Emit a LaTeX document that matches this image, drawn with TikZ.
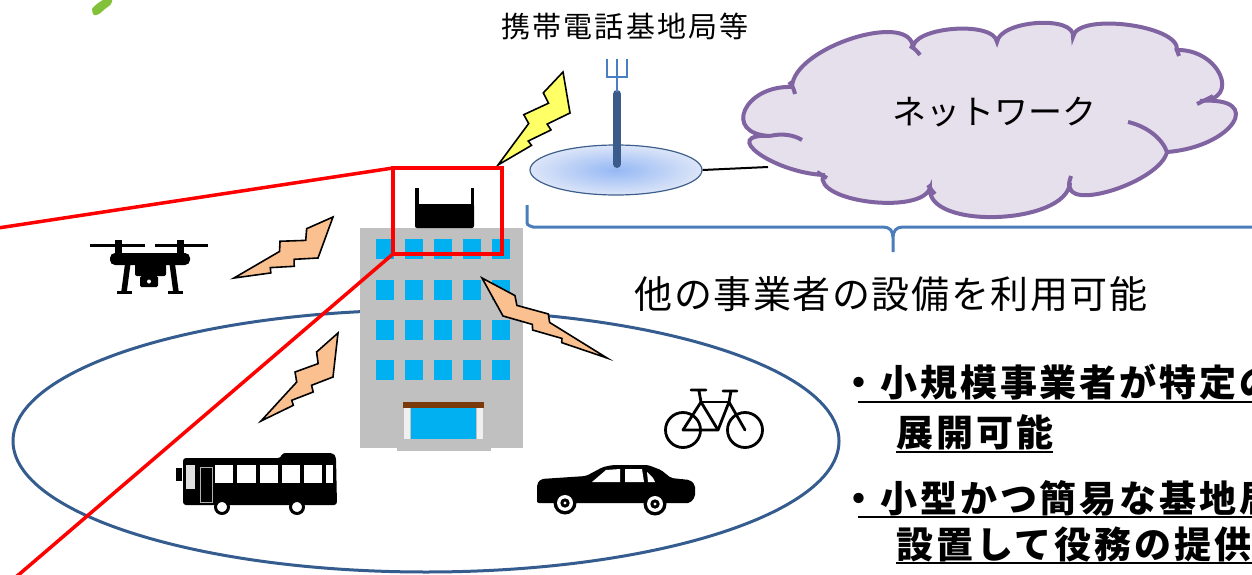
\documentclass[tikz,border=0pt]{standalone}
\usepackage{fontspec}
\setmainfont{Noto Sans CJK JP}
\usetikzlibrary{shapes.geometric}

\definecolor{winblue}{HTML}{00B0F0}
\definecolor{wallgray}{HTML}{C0C0C0}
\definecolor{lintel}{HTML}{7B3A0B}
\definecolor{pillar}{HTML}{F0F0F0}
\definecolor{areablue}{HTML}{355C8E}
\definecolor{bracecol}{HTML}{4A7DBA}
\definecolor{cloudfill}{HTML}{E6E0EC}
\definecolor{cloudline}{HTML}{8064A2}
\definecolor{bsin}{HTML}{95B8F4}
\definecolor{bsout}{HTML}{DCE5F8}
\definecolor{bsline}{HTML}{3E5F8C}
\definecolor{mastcol}{HTML}{3B5C8A}
\definecolor{antcol}{HTML}{4A7EC2}
\definecolor{boltyellow}{HTML}{FFFF66}
\definecolor{boltorange}{HTML}{FAC090}
\definecolor{leaf}{HTML}{84C13A}

% lightning bolt: tip #1, broad-end corners #2 and #3, fill colour #4
\newcommand\bolt[4]{%
  \draw[boltline, fill=#4] (#2)
    -- (barycentric cs:#1=0.2876,#2=0.8558,#3=-0.1434)
    -- (barycentric cs:#1=0.2444,#2=0.5490,#3=0.2066)
    -- (barycentric cs:#1=0.5750,#2=0.6886,#3=-0.2636)
    -- (barycentric cs:#1=0.5330,#2=0.4194,#3=0.0476)
    -- (#1)
    -- (barycentric cs:#1=0.5441,#2=-0.0990,#3=0.5549)
    -- (barycentric cs:#1=0.5762,#2=0.0467,#3=0.3771)
    -- (barycentric cs:#1=0.2707,#2=-0.0703,#3=0.7996)
    -- (barycentric cs:#1=0.3056,#2=0.1169,#3=0.5775)
    -- (#3) -- cycle;}

\begin{document}
\begin{tikzpicture}[x=1pt,y=-1pt,
  boltline/.style={draw=black, line width=1.6pt, line join=miter},
  redline/.style={draw=red, line width=3.5pt},
  cloudedge/.style={draw=cloudline, line width=4pt},
  uline/.style={line width=2.6pt},
  bigtext/.style={font=\fontsize{38}{42}\selectfont\addfontfeature{LetterSpace=4}},
  boldline/.style={anchor=base west, inner sep=0pt,
    font=\fontsize{37}{42}\selectfont\bfseries\addfontfeature{LetterSpace=8}},
  frame/.style={line width=2.8pt, line join=round, line cap=round}]

\useasboundingbox (0,0) rectangle (1252,575);
\clip (0,0) rectangle (1252,575);

% leaf at the top edge
\fill[leaf] plot[smooth cycle] coordinates {(94,15) (92,9) (97,4) (103,0) (112,-3) (111,4) (105,9) (99,14)};

% service area
\draw[areablue, line width=3pt] (426,441) ellipse [x radius=413pt, y radius=131pt];

% building
\fill[wallgray] (360,228) rectangle (523,448);
\fill[wallgray] (397,447) rectangle (491,451);
\foreach \x in {376,405,434,463,492}
  \foreach \y in {239,280,320,360}
    \fill[winblue] (\x,\y) rectangle +(18,20);
\fill[lintel] (403,402) rectangle (484,408);
\fill[pillar] (404,408) rectangle (410,439);
\fill[pillar] (477,408) rectangle (483,439);
\fill[winblue] (411,408) rectangle (476,439);

% router on the roof
\fill (415,188) rectangle (418.5,206);
\fill (470.5,188) rectangle (474,206);
\fill[rounded corners=2pt] (415,204) rectangle (474,228);

% lightning bolts
\coordinate (y1t) at (498,165); \coordinate (y1a) at (563,72);  \coordinate (y1b) at (570,113);
\coordinate (o1t) at (234,278); \coordinate (o1a) at (333,217); \coordinate (o1b) at (318,258);
\coordinate (o2t) at (261,421); \coordinate (o2a) at (338,333); \coordinate (o2b) at (333,377);
\coordinate (o3t) at (607,358); \coordinate (o3a) at (482,278); \coordinate (o3b) at (503,316);
\bolt{y1t}{y1a}{y1b}{boltyellow}
\bolt{o1t}{o1a}{o1b}{boltorange}
\bolt{o2t}{o2a}{o2b}{boltorange}
\bolt{o3t}{o3a}{o3b}{boltorange}

% zoom frame
\node[draw=red, line width=4pt, minimum width=109pt, minimum height=86pt,
      inner sep=0pt, outer sep=0pt] (rbox) at (447.5,211) {};
\coordinate (zoomtop) at (-2,228);
\coordinate (zoombot) at (-5,595);
\draw[redline] (rbox.north west) -- (zoomtop);
\draw[redline] (rbox.south west) -- (zoombot);

% base station
\node[ellipse, minimum width=172pt, minimum height=50pt, inner sep=0pt,
      draw=bsline, line width=1.2pt, inner color=bsin, outer color=bsout] (bs) at (616,170) {};
\draw[mastcol, line width=8pt, line cap=round] (617,94) -- (617,164);
\draw[antcol, line width=2.5pt] (617,59) -- (617,92) (607,59) -- (607,77) -- (627,77) -- (627,59);
\node[anchor=base, inner sep=0pt, font=\fontsize{29}{31}\selectfont\addfontfeature{LetterSpace=7}]
  (bslabel) at (625,38) {携帯電話基地局等};

% link to the network
\coordinate (netin) at (768,167);
\draw[line width=2pt] (bs.east) -- (netin);

% network cloud
\path[fill=cloudfill, cloudedge]
 (792,87) .. controls (793,47) and (914,9) .. (913,49)
 .. controls (910,27) and (994,20) .. (997,42)
 .. controls (1000,20) and (1076,15) .. (1073,37)
 .. controls (1076,12) and (1180,25) .. (1177,50)
 .. controls (1219,49) and (1242,100) .. (1200,101)
 .. controls (1266,96) and (1233,147) .. (1167,152)
 .. controls (1160,182) and (1063,213) .. (1070,183)
 .. controls (1066,225) and (926,230) .. (930,188)
 .. controls (921,215) and (814,202) .. (823,175)
 .. controls (772,172) and (719,133) .. (770,136)
 .. controls (722,134) and (744,85) .. (792,87) -- cycle;
\draw[cloudedge]
 (770,136) .. controls (782,133) and (794,135) .. (802,140)
 (789,82) .. controls (792,85) and (794,89) .. (795,94)
 (910,46) .. controls (914,48) and (917,51) .. (920,55)
 (1176,48) .. controls (1177,50) and (1178,53) .. (1179,56)
 (1213,96) .. controls (1208,99) and (1203,101) .. (1197,104)
 (1128,122) .. controls (1146,126) and (1162,138) .. (1167,152)
 (1071,176) .. controls (1070,179) and (1069,182) .. (1069,186)
 (928,185) .. controls (930,188) and (932,191) .. (935,194)
 (817,172) .. controls (820,174) and (823,176) .. (827,178);
\node[inner sep=0pt, font=\fontsize{34}{38}\selectfont] (net) at (994,112) {ネットワーク};

% brace under the shared facilities
\draw[bracecol, line width=3pt]
 (527,205) -- (527,220) .. controls (527,225) .. (533,227) -- (883,227)
 .. controls (890,227) and (893,231) .. (893,238) -- (893,252)
 (893,238) .. controls (893,231) and (896,227) .. (903,227) -- (1253,227)
 .. controls (1259,226) .. (1259,220) -- (1259,205);
\node[anchor=base, inner sep=0pt, bigtext] (share) at (891,308) {他の事業者の設備を利用可能};

% drone
\fill (90,243.5) rectangle (145,246.5);
\fill (155,243.5) rectangle (208,246.5);
\fill (115,240) rectangle (122,258);
\fill (177,240) rectangle (184,258);
\fill[rounded corners=5pt] (110,253) rectangle (190,265);
\fill[rounded corners=2pt] (135,253) rectangle (166,276);
\fill[rounded corners=1.5pt] (140,276) rectangle (158,287);
\fill[white] (149,281.5) circle[radius=2pt];
\draw[line width=5.5pt] (128,262) -- (124,292);
\draw[line width=5.5pt] (172,262) -- (176,292);
\draw[line width=3pt] (117,292) -- (132,292) (168,292) -- (183,292);

% bus
\fill[rounded corners=3pt] (183,458) -- (281,458) -- (282,453) -- (333,453) -- (336,457)
  -- (337,505) -- (183,505) -- cycle;
\fill (176,468) rectangle (182,481);
\foreach \x/\w in {215/18, 237/19, 260/18, 282/18, 304/18, 326/7}
  \fill[white] (\x,465) rectangle +(\w,18);
\fill[gray!25] (186,465) rectangle (195,489);
\draw[gray!60, line width=1pt] (200,467) rectangle (212,502);
\filldraw[fill=white, draw=black, line width=3pt] (222,507) circle[radius=6.5pt];
\filldraw[fill=white, draw=black, line width=3pt] (297,507) circle[radius=6.5pt];

% car
\fill[rounded corners=2pt] (537,500) -- (537,484) -- (541,479) -- (586,476) -- (603,467)
  -- (613,465) -- (648,465) -- (661,470) -- (671,478) -- (690,480) -- (695,485)
  -- (695,497) -- (690,503) -- (537,503) -- cycle;
\fill[white] (592,482) -- (606,470) -- (620,469) -- (620,482) -- cycle;
\fill[white] (625,469) -- (642,469) -- (644,482) -- (625,482) -- cycle;
\fill[white] (647,472) -- (653,478) -- (655,482) -- (648,482) -- cycle;
\foreach \c in {(565,503),(655,504)} {
  \fill \c circle[radius=11.5pt];
  \fill[white] \c circle[radius=8pt];
  \fill \c circle[radius=4.7pt];
  \fill[white] \c circle[radius=1.6pt];
}

% bicycle
\draw[frame] (683,430) circle[radius=17.5pt];
\draw[frame] (745,430) circle[radius=17.5pt];
\draw[frame] (683,430) -- (718,430) -- (729,402) -- (745,430);
\draw[frame] (683,430) -- (701,402) -- (718,430);
\draw[frame] (701,402) -- (729,402);
\draw[frame] (701,402) -- (699,391) (691,390) -- (706,390);
\draw[frame] (729,402) -- (731,391) (723,391) -- (737,391);

% key points
\node[boldline] (pt1) at (840,396) {・小規模事業者が特定の};
\node[boldline] (pt1b) at (896,446) {展開可能};
\node[boldline] (pt2) at (840,512) {・小型かつ簡易な基地局};
\node[boldline] (pt2b) at (896,558) {設置して役務の提供が};
\draw[uline] ([xshift=18pt,yshift=-6pt]pt1.base west) -- ([yshift=-6pt]pt1.base east);
\draw[uline] ([yshift=-6pt]pt1b.base west) -- ([yshift=-6pt]pt1b.base east);
\draw[uline] ([xshift=18pt,yshift=-5pt]pt2.base west) -- ([yshift=-5pt]pt2.base east);
\draw[uline] ([yshift=-5pt]pt2b.base west) -- ([yshift=-5pt]pt2b.base east);
\end{tikzpicture}
\end{document}
